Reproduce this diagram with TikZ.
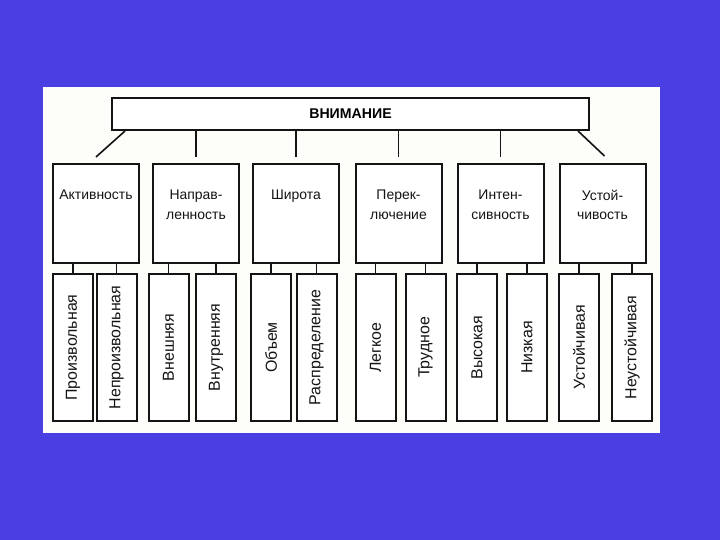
\documentclass[tikz,border=0pt]{standalone}
\usepackage{fontspec}
\usepackage{graphicx}
\setmainfont{Liberation Sans}
\usetikzlibrary{positioning}
\definecolor{slideblue}{HTML}{4A3FE2}
\definecolor{panelfill}{HTML}{FDFDF9}
\definecolor{inkline}{HTML}{141414}
\tikzset{
  topbox/.style={draw=inkline, fill=white, line width=2bp, minimum width=477bp, minimum height=32bp, inner sep=0pt, font=\fontsize{14.2}{16}\selectfont\bfseries},
  catbox/.style={draw=inkline, fill=white, line width=2bp, minimum width=86bp, minimum height=99bp, inner sep=0pt},
  cattext/.style={font=\fontsize{14}{19.5}\selectfont, align=center, inner sep=0pt, text=inkline},
  leafbox/.style={draw=inkline, fill=white, line width=2bp, minimum width=40bp, minimum height=147bp, inner sep=0pt, font=\fontsize{16}{18}\selectfont, text=inkline},
  link/.style={draw=inkline, line width=1.6bp},
}

\begin{document}
\begin{tikzpicture}[x=1bp,y=1bp]
  % slide and white panel
  \fill[slideblue] (0,0) rectangle (720,540);
  \useasboundingbox (0,0) rectangle (720,540);
  \fill[panelfill] (43,107) rectangle (660,453);
  % top box
  \node[topbox] (top) at (350.5,426) {ВНИМАНИЕ};
  % categories
  \node[catbox] (c1) at (96,326.5) {};
  \node[catbox] (c2) at (196,326.5) {};
  \node[catbox] (c3) at (296,326.5) {};
  \node[catbox] (c4) at (398.5,326.5) {};
  \node[catbox] (c5) at (500.5,326.5) {};
  \node[catbox] (c6) at (602.5,326.5) {};
  \node[cattext, below=27bp of c1.north] (t1) {Активность};
  \node[cattext, below=27bp of c2.north] (t2) {Направ-\\ленность};
  \node[cattext, below=27bp of c3.north] (t3) {Широта};
  \node[cattext, below=27bp of c4.north] (t4) {Перек-\\лючение};
  \node[cattext, below=27bp of c5.north] (t5) {Интен-\\сивность};
  \node[cattext, below=27bp of c6.north] (t6) {Устой-\\чивость};
  % leaves
  \node[leafbox] (l1) at (73,192.5) {\rotatebox{90}{Произвольная}};
  \node[leafbox] (l2) at (116.5,192.5) {\rotatebox{90}{Непроизвольная}};
  \node[leafbox] (l3) at (168.5,192.5) {\rotatebox{90}{Внешняя}};
  \node[leafbox] (l4) at (216,192.5) {\rotatebox{90}{Внутренняя}};
  \node[leafbox] (l5) at (271,192.5) {\rotatebox{90}{Объем}};
  \node[leafbox] (l6) at (316.5,192.5) {\rotatebox{90}{Распределение}};
  \node[leafbox] (l7) at (375.5,192.5) {\rotatebox{90}{Легкое}};
  \node[leafbox] (l8) at (425.5,192.5) {\rotatebox{90}{Трудное}};
  \node[leafbox] (l9) at (477,192.5) {\rotatebox{90}{Высокая}};
  \node[leafbox] (l10) at (527,192.5) {\rotatebox{90}{Низкая}};
  \node[leafbox] (l11) at (579,192.5) {\rotatebox{90}{Устойчивая}};
  \node[leafbox] (l12) at (632,192.5) {\rotatebox{90}{Неустойчивая}};
  % top to categories
  \draw[link] ([xshift=14bp]top.south west) -- ([yshift=6bp]c1.north);
  \draw[link] (top.south -| c2.north) -- ([yshift=6bp]c2.north);
  \draw[link] (top.south -| c3.north) -- ([yshift=6bp]c3.north);
  \draw[link] (top.south -| c4.north) -- ([yshift=6bp]c4.north);
  \draw[link] (top.south -| c5.north) -- ([yshift=6bp]c5.north);
  \draw[link] ([xshift=-12bp]top.south east) -- ([yshift=7bp,xshift=2bp]c6.north);
  % categories to leaves
  \draw[link] (c1.south -| l1.north) -- (l1.north);
  \draw[link] (c1.south -| l2.north) -- (l2.north);
  \draw[link] (c2.south -| l3.north) -- (l3.north);
  \draw[link] (c2.south -| l4.north) -- (l4.north);
  \draw[link] (c3.south -| l5.north) -- (l5.north);
  \draw[link] (c3.south -| l6.north) -- (l6.north);
  \draw[link] (c4.south -| l7.north) -- (l7.north);
  \draw[link] (c4.south -| l8.north) -- (l8.north);
  \draw[link] (c5.south -| l9.north) -- (l9.north);
  \draw[link] (c5.south -| l10.north) -- (l10.north);
  \draw[link] (c6.south -| l11.north) -- (l11.north);
  \draw[link] (c6.south -| l12.north) -- (l12.north);
\end{tikzpicture}
\end{document}
